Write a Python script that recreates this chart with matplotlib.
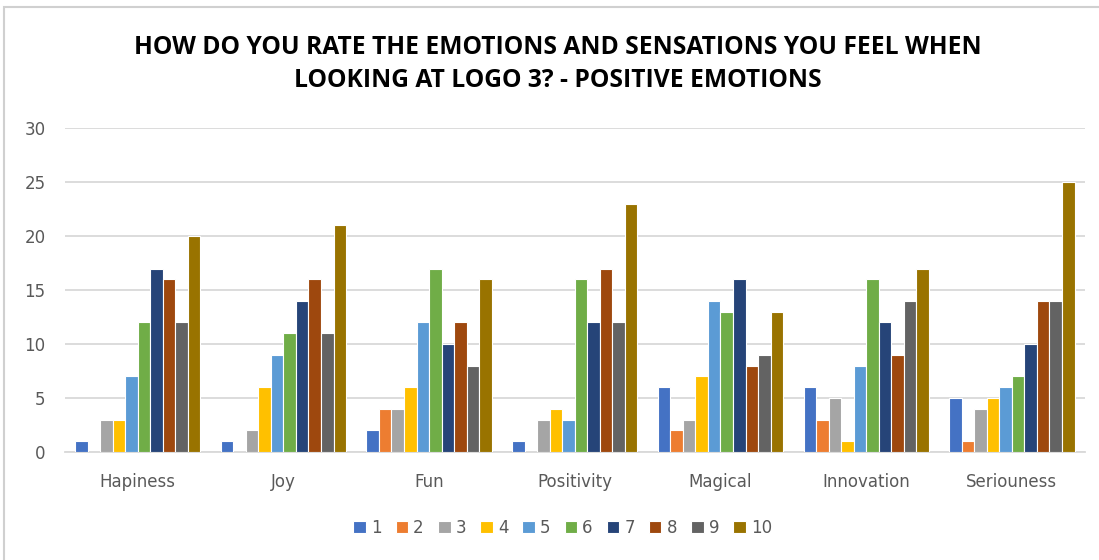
import matplotlib.pyplot as plt
import matplotlib.patches as mpatches
import numpy as np

categories = ["Hapiness", "Joy", "Fun", "Positivity", "Magical", "Innovation", "Seriouness"]
series_names = ["1", "2", "3", "4", "5", "6", "7", "8", "9", "10"]
s1 = [1, 1, 2, 1, 6, 6, 5]
s2 = [0, 0, 4, 0, 2, 3, 1]
s3 = [3, 2, 4, 3, 3, 5, 4]
s4 = [3, 6, 6, 4, 7, 1, 5]
s5 = [7, 9, 12, 3, 14, 8, 6]
s6 = [12, 11, 17, 16, 13, 16, 7]
s7 = [17, 14, 10, 12, 16, 12, 10]
s8 = [16, 16, 12, 17, 8, 9, 14]
s9 = [12, 11, 8, 12, 9, 14, 14]
s10 = [20, 21, 16, 23, 13, 17, 25]
series = [s1, s2, s3, s4, s5, s6, s7, s8, s9, s10]
colors = ["#4472C4", "#ED7D31", "#A5A5A5", "#FFC000", "#5B9BD5",
          "#70AD47", "#264478", "#9E480E", "#636363", "#997300"]
yticks = [0, 5, 10, 15, 20, 25, 30]

fig = plt.figure(figsize=(10.99, 5.6), dpi=100)
ax = fig.add_axes([0.059, 0.193, 0.928, 0.578])

x = np.arange(len(categories))
group = 0.86
slot = group / len(series)
for i, (vals, c, name) in enumerate(zip(series, colors, series_names)):
    offs = -group / 2 + slot * (i + 0.5)
    ax.bar(x + offs, vals, width=slot, color=c, edgecolor="white",
           linewidth=0.8, label=name, zorder=3)

ax.set_xlim(-0.5, len(categories) - 0.5)
ax.set_ylim(0, 30)
ax.set_yticks(yticks)
ax.set_yticklabels([str(t) for t in yticks])
ax.set_xticks(x)
ax.set_xticklabels(categories)
ax.tick_params(axis="both", length=0, labelsize=12, colors="#595959")
ax.tick_params(axis="x", pad=15)
ax.tick_params(axis="y", pad=14)
ax.grid(axis="y", color="#d9d9d9", linewidth=1.3, zorder=0)
for sp in ["top", "right", "left"]:
    ax.spines[sp].set_visible(False)
ax.spines["bottom"].set_color("#d9d9d9")
ax.spines["bottom"].set_linewidth(1.3)

fig.text(0.508, 0.885, "HOW DO YOU RATE THE EMOTIONS AND SENSATIONS YOU FEEL WHEN\nLOOKING AT LOGO 3? - POSITIVE EMOTIONS",
         ha="center", va="center", fontsize=17.7, fontweight="bold",
         family="Open Sans", linespacing=1.42, color="#000000")

fig.legend(loc="center", bbox_to_anchor=(0.512, 0.058), ncol=10, frameon=False,
           fontsize=12, handlelength=0.75, handleheight=0.75, handletextpad=0.3,
           columnspacing=0.85, labelcolor="#595959")

fig.patches.append(mpatches.Rectangle((0.004, -0.01), 1.2, 0.997, transform=fig.transFigure,
                                      fill=False, edgecolor="#d0d0d0", linewidth=1.5))

fig.savefig("out.png", dpi=100)
